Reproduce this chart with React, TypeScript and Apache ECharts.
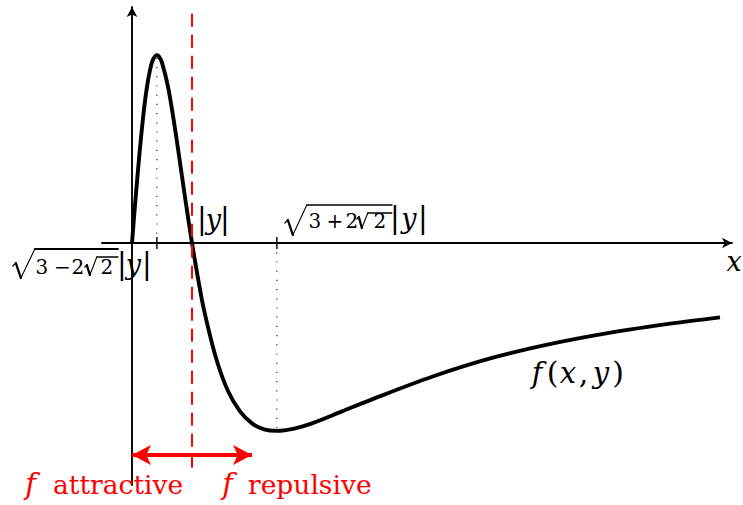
import React, { useEffect, useRef } from 'react';
import * as echarts from 'echarts';

// Points of f(x, y) read along the x axis (x in units of |y|)
const curveX = [0, 0.05, 0.1, 0.15, 0.2, 0.25, 0.3, 0.35, 0.414, 0.45, 0.5, 0.6, 0.7, 0.8, 0.9, 1.0, 1.1, 1.2, 1.4, 1.6, 1.8, 2.0, 2.2, 2.414, 2.7, 3.0, 3.5, 4.0, 5.0, 6.0, 7.0, 8.0, 9.0, 9.8];
const curveY = [0, 0.05, 0.097, 0.14, 0.178, 0.208, 0.23, 0.244, 0.25, 0.248, 0.24, 0.208, 0.161, 0.107, 0.052, 0, -0.047, -0.089, -0.153, -0.197, -0.224, -0.24, -0.248, -0.25, -0.247, -0.24, -0.224, -0.208, -0.178, -0.153, -0.134, -0.119, -0.107, -0.099];

// Extrema at sqrt(3 - 2 sqrt2)|y| and sqrt(3 + 2 sqrt2)|y|
const extremaX = [0.414, 2.414];
const extremaY = [0.25, -0.25];

// Sign change of f at x = |y|
const crossingX = 1;
const boundarySpan = [-0.302, 0.305];

// Double arrow marking the attractive / repulsive regions
const regionArrowX = [0.0, 2.0];
const regionArrowY = -0.282;

// Axis ranges
const xRange = [-0.5, 10];
const yRange = [-0.322, 0.314];

const FONT = '"DejaVu Serif", "Liberation Serif", serif';
const MID = 0.35;
const RED = '#ff0000';

type Px = (x: number, y: number) => number[];

function glyph(text: string, cx: number, base: number, size: number, italic = false, color = '#000', align = 'center') {
  return {
    type: 'text',
    z: 20,
    silent: true,
    style: {
      text,
      x: cx,
      y: base - MID * size,
      fontFamily: FONT,
      fontSize: size,
      fontStyle: italic ? 'italic' : 'normal',
      fill: color,
      align,
      verticalAlign: 'middle',
      textAlign: align,
      textVerticalAlign: 'middle',
    },
  };
}

function seg(p: number[][], width: number) {
  return {
    type: 'polyline',
    z: 20,
    silent: true,
    shape: { points: p },
    style: { stroke: '#000', lineWidth: width, fill: null, lineCap: 'round', lineJoin: 'round' },
  };
}

// radical sign: hook, thick down-stroke, thin up-stroke, overline
function radical(pts: number[][], ox: number, oy: number, overW: number) {
  const p = pts.map(([dx, dy]) => [ox + dx, oy + dy]);
  return [
    seg([p[0], p[1]], 1.2),
    seg([p[1], p[2]], 2.3),
    seg([p[2], p[3]], 1.1),
    seg([p[3], p[4]], overW),
  ];
}

function absBars(ox: number, base: number, bar1: number, yc: number, bar2: number) {
  return [
    glyph('|', ox + bar1, base, 29),
    glyph('y', ox + yc, base, 27, true),
    glyph('|', ox + bar2, base, 29),
  ];
}

function buildLabels(px: Px) {
  const els: any[] = [];

  // sqrt(3 - 2 sqrt2)|y| under the first tick
  const [lx, ly] = px(extremaX[0], 0);
  const lb = ly + 31;
  els.push(...radical([[-144, 23], [-141, 20], [-136, 35], [-122, 6], [-39, 6]], lx, ly, 2.2));
  els.push(glyph('3', lx - 115, lb, 20));
  els.push(glyph('\u2212', lx - 94.5, lb, 20));
  els.push(glyph('2', lx - 79, lb, 20));
  els.push(...radical([[-72, 24], [-70, 22], [-67, 32], [-60, 14], [-39, 14]], lx, ly, 1.4));
  els.push(glyph('2', lx - 50, lb, 20));
  els.push(...absBars(lx, lb, -35, -23.5, -10));

  // sqrt(3 + 2 sqrt2)|y| above the second tick
  const [rx, ry] = px(extremaX[1], 0);
  const rb = ry - 15;
  els.push(...radical([[8, -20], [11, -23], [16, -8], [30, -38], [115, -38]], rx, ry, 1.6));
  els.push(glyph('3', rx + 38, rb, 20));
  els.push(glyph('+', rx + 58, rb, 20));
  els.push(glyph('2', rx + 75, rb, 20));
  els.push(...radical([[80, -24], [82, -26], [85, -15], [91, -30], [115, -30]], rx, ry, 1.3));
  els.push(glyph('2', rx + 103, rb, 20));
  els.push(...absBars(rx, rb, 118, 132, 146));

  // |y| next to the sign change
  const [cx, cy] = px(crossingX, 0);
  els.push(...absBars(cx, cy - 14, 10, 21.5, 33));

  // axis name
  const [ex, ey] = px(xRange[1], 0);
  els.push(glyph('x', ex + 2, ey + 28, 27, true));

  // curve name f(x, y)
  const fb = 383;
  els.push(glyph('f', 537, fb, 29, true));
  els.push(glyph('(', 552.5, fb, 30));
  els.push(glyph('x', 568, fb, 29, true));
  els.push(glyph(',', 583.5, fb, 29));
  els.push(glyph('y', 601, fb, 29, true));
  els.push(glyph(')', 618, fb, 30));

  // region captions
  const cb = 494;
  els.push(glyph('f', 30.5, cb, 29, true, RED));
  els.push(glyph('attractive', 53, cb, 26.5, false, RED, 'left'));
  els.push(glyph('f', 227.5, cb, 29, true, RED));
  els.push(glyph('repulsive', 248, cb, 26.5, false, RED, 'left'));

  return els;
}

export default function App() {
  const ref = useRef<HTMLDivElement>(null);

  useEffect(() => {
    const chart = echarts.init(ref.current!, null, { renderer: 'svg' });

    const axisCommon = {
      type: 'value',
      axisLabel: { show: false },
      axisTick: { show: false },
      splitLine: { show: false },
    };

    const option: any = {
      animation: false,
      backgroundColor: '#ffffff',
      grid: { left: 102, top: 7, width: 630, height: 478, containLabel: false, outerBoundsMode: 'none' },
      xAxis: {
        ...axisCommon,
        min: xRange[0],
        max: xRange[1],
        axisLine: {
          onZero: true,
          symbol: ['none', 'arrow'],
          symbolSize: [8, 10],
          lineStyle: { color: '#000', width: 1.9 },
        },
      },
      yAxis: {
        ...axisCommon,
        min: yRange[0],
        max: yRange[1],
        axisLine: {
          onZero: true,
          symbol: ['none', 'arrow'],
          symbolSize: [8, 10],
          lineStyle: { color: '#000', width: 1.9 },
        },
      },
      series: [
        {
          type: 'line',
          name: 'f(x, y)',
          data: curveX.map((x, i) => [x, curveY[i]]),
          smooth: 0.3,
          showSymbol: false,
          silent: true,
          z: 3,
          lineStyle: { color: '#000', width: 3.9 },
        },
        ...extremaX.map((x, i) => ({
          type: 'line',
          data: [[x, 0], [x, extremaY[i]]],
          showSymbol: false,
          silent: true,
          z: 2,
          lineStyle: { color: '#222', width: 1.2, type: [1.2, 8] },
        })),
        {
          type: 'scatter',
          data: extremaX.map((x) => [x, 0]),
          symbol: 'rect',
          symbolSize: [1.8, 12],
          silent: true,
          z: 4,
          itemStyle: { color: '#000' },
        },
        {
          type: 'line',
          data: [[crossingX, boundarySpan[1]], [crossingX, boundarySpan[0]]],
          showSymbol: false,
          silent: true,
          z: 5,
          lineStyle: { color: RED, width: 2, type: [13, 8] },
          markLine: {
            silent: true,
            symbol: ['arrow', 'arrow'],
            symbolSize: [15, 19],
            label: { show: false },
            lineStyle: { color: RED, width: 4.2, type: 'solid' },
            emphasis: { disabled: true },
            data: [[{ coord: [regionArrowX[0], regionArrowY] }, { coord: [regionArrowX[1], regionArrowY] }]],
          },
        },
      ],
    };

    chart.setOption(option);
    const px: Px = (x, y) => chart.convertToPixel({ gridIndex: 0 }, [x, y]) as number[];
    chart.setOption({ graphic: { elements: buildLabels(px) } });

    return () => chart.dispose();
  }, []);

  return (
    <div
      ref={ref}
      style={{ position: 'fixed', left: 0, top: 0, width: 743, height: 505, background: '#fff' }}
    />
  );
}
